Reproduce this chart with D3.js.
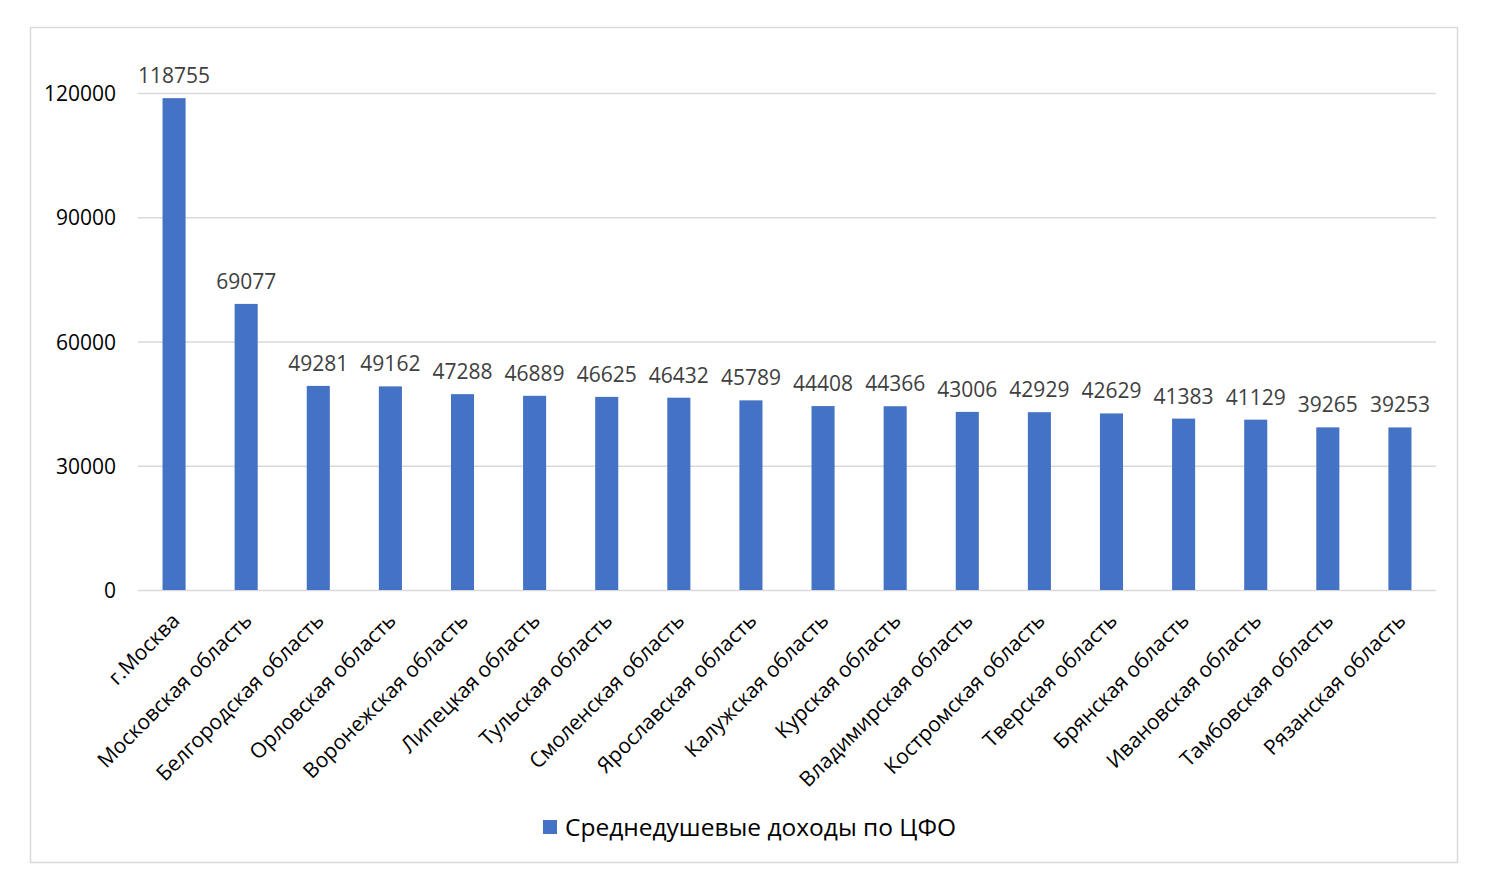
<!DOCTYPE html>
<html>
<head>
<meta charset="utf-8">
<script src="https://cdn.jsdelivr.net/npm/d3@7"></script>
<style>
  body { margin: 0; background: #fff; }
  text { font-family: "Open Sans", sans-serif; }
</style>
</head>
<body>
<div id="chart"></div>
<script>
// Data
const regions = ["г.Москва", "Московская область", "Белгородская область", "Орловская область",
  "Воронежская область", "Липецкая область", "Тульская область", "Смоленская область",
  "Ярославская область", "Калужская область", "Курская область", "Владимирская область",
  "Костромская область", "Тверская область", "Брянская область", "Ивановская область",
  "Тамбовская область", "Рязанская область"]
const incomes = [118755, 69077, 49281, 49162, 47288, 46889, 46625, 46432, 45789, 44408,
  44366, 43006, 42929, 42629, 41383, 41129, 39265, 39253]
const yTicks = [0, 30000, 60000, 90000, 120000]
const seriesName = "Среднедушевые доходы по ЦФО"

// Dimensions
const width = 1485
const height = 889
const plotLeft = 138
const plotRight = 1436
const plotTop = 93
const plotBottom = 590
const barColor = "#4472c4"

const svg = d3.select("#chart")
  .append("svg")
    .attr("width", width)
    .attr("height", height)

svg.append("rect")
  .attr("x", 30.5)
  .attr("y", 27.5)
  .attr("width", 1427)
  .attr("height", 835)
  .attr("fill", "#fff")
  .attr("stroke", "#d9d9d9")
  .attr("stroke-width", 1.5)

const x = d3.scaleBand()
  .domain(regions)
  .range([plotLeft, plotRight])
  .paddingInner(0.68)
  .paddingOuter(0.34)

const y = d3.scaleLinear()
  .domain([0, 120000])
  .range([plotBottom, plotTop])

// gridlines
svg.append("g")
  .selectAll("line")
  .data(yTicks)
  .enter().append("line")
  .attr("x1", plotLeft)
  .attr("x2", plotRight)
  .attr("y1", function(d) { return y(d) + 0.5 })
  .attr("y2", function(d) { return y(d) + 0.5 })
  .attr("stroke", "#d9d9d9")
  .attr("stroke-width", 1.3)

// y labels
svg.append("g")
  .selectAll("text")
  .data(yTicks)
  .enter().append("text")
  .attr("x", 116)
  .attr("y", function(d) { return y(d) + 8 })
  .attr("text-anchor", "end")
  .style("font-size", "21px")
  .attr("fill", "#000")
  .text(function(d) { return d })

// bars
svg.append("g")
  .selectAll("rect")
  .data(incomes)
  .enter().append("rect")
  .attr("x", function(d, i) { return x(regions[i]) })
  .attr("y", function(d) { return y(d) })
  .attr("width", x.bandwidth())
  .attr("height", function(d) { return plotBottom - y(d) })
  .attr("fill", barColor)

// value labels
svg.append("g")
  .selectAll("text")
  .data(incomes)
  .enter().append("text")
  .attr("x", function(d, i) { return x(regions[i]) + x.bandwidth() / 2 })
  .attr("y", function(d) { return y(d) - 15 })
  .attr("text-anchor", "middle")
  .style("font-size", "21px")
  .attr("fill", "#404040")
  .text(function(d) { return d })

// category labels
svg.append("g")
  .selectAll("text")
  .data(regions)
  .enter().append("text")
  .attr("text-anchor", "end")
  .attr("transform", function(d) {
    let cx = x(d) + x.bandwidth() / 2 + 7
    return "translate(" + cx + "," + 622 + ") rotate(-45)"
  })
  .style("font-size", "21px")
  .attr("fill", "#000")
  .text(function(d) { return d })

// legend
svg.append("rect")
  .attr("x", 543)
  .attr("y", 820)
  .attr("width", 14)
  .attr("height", 14)
  .attr("fill", barColor)

svg.append("text")
  .attr("x", 565)
  .attr("y", 836)
  .style("font-size", "24.5px")
  .attr("fill", "#000")
  .text(seriesName)
</script>
</body>
</html>
